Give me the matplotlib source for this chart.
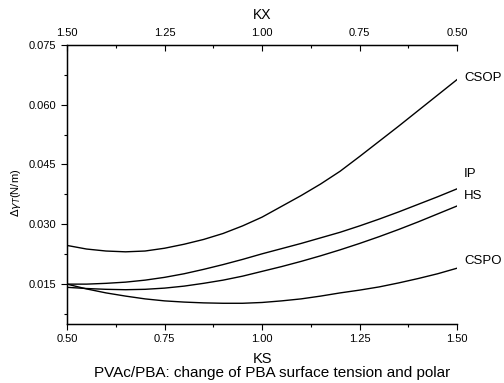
import matplotlib
matplotlib.use("Agg")
import matplotlib.pyplot as plt
from matplotlib.ticker import MultipleLocator, FormatStrFormatter

plt.rcParams['font.family'] = ['Liberation Sans', 'DejaVu Sans']

# values
ks = [0.50, 0.55, 0.60, 0.65, 0.70, 0.75, 0.80, 0.85, 0.90, 0.95, 1.00,
      1.05, 1.10, 1.15, 1.20, 1.25, 1.30, 1.35, 1.40, 1.45, 1.50]
csop = [0.0247, 0.0238, 0.0233, 0.0231, 0.0233, 0.0240, 0.0250, 0.0262, 0.0277, 0.0296, 0.0318,
        0.0345, 0.0372, 0.0401, 0.0433, 0.0470, 0.0508, 0.0546, 0.0585, 0.0624, 0.0663]
ip = [0.0150, 0.0150, 0.0152, 0.0155, 0.0160, 0.0167, 0.0176, 0.0187, 0.0199, 0.0212, 0.0226,
      0.0239, 0.0252, 0.0266, 0.0280, 0.0296, 0.0313, 0.0331, 0.0350, 0.0369, 0.0389]
hs = [0.0142, 0.0139, 0.0137, 0.0136, 0.0137, 0.0140, 0.0145, 0.0152, 0.0160, 0.0170, 0.0182,
      0.0194, 0.0207, 0.0221, 0.0236, 0.0252, 0.0269, 0.0287, 0.0306, 0.0326, 0.0346]
cspo = [0.0150, 0.0138, 0.0128, 0.0120, 0.0113, 0.0108, 0.0105, 0.0103, 0.0102, 0.0102, 0.0104,
        0.0108, 0.0113, 0.0120, 0.0128, 0.0135, 0.0143, 0.0153, 0.0164, 0.0176, 0.0190]
names = ['CSOP', 'IP', 'HS', 'CSPO']
label_y = [0.0668, 0.0425, 0.0372, 0.0208]

fig = plt.figure(figsize=(5.04, 3.83), dpi=100)
ax = fig.add_axes([0.133, 0.154, 0.774, 0.729])

for ys, name, ly in zip([csop, ip, hs, cspo], names, label_y):
    ax.plot(ks, ys, color='black', lw=1.0)
    ax.annotate(name, xy=(1.5, ly), xytext=(5, 0), textcoords='offset points',
                ha='left', va='center', fontsize=9.5, annotation_clip=False)

ax.set_xlim(0.5, 1.5)
ax.set_ylim(0.005, 0.075)
ax.xaxis.set_major_locator(MultipleLocator(0.25))
ax.xaxis.set_minor_locator(MultipleLocator(0.125))
ax.yaxis.set_major_locator(MultipleLocator(0.015))
ax.yaxis.set_minor_locator(MultipleLocator(0.0075))
ax.xaxis.set_major_formatter(FormatStrFormatter('%.2f'))
ax.yaxis.set_major_formatter(FormatStrFormatter('%.3f'))
ax.tick_params(axis='both', which='major', labelsize=8, length=4, width=0.8, direction='out')
ax.tick_params(axis='both', which='minor', length=2.5, width=0.8, direction='out')
ax.spines['right'].set_visible(False)
for s in ['left', 'bottom', 'top']:
    ax.spines[s].set_linewidth(1.0)

ax.set_xlabel('KS', fontsize=10.5, va='center')
ax.xaxis.set_label_coords(0.5, -0.125)
ax.set_ylabel(r'$\Delta\gamma_T$(N/m)', fontsize=8, va='center')
ax.yaxis.set_label_coords(-0.131, 0.47)

top = ax.twiny()
top.set_xlim(1.5, 0.5)
top.xaxis.set_major_locator(MultipleLocator(0.25))
top.xaxis.set_minor_locator(MultipleLocator(0.125))
top.xaxis.set_major_formatter(FormatStrFormatter('%.2f'))
top.tick_params(axis='x', which='major', labelsize=8, length=4, width=0.8, direction='in', pad=5)
top.tick_params(axis='x', which='minor', length=2.5, width=0.8, direction='in')
top.spines['right'].set_visible(False)
top.set_xlabel('KX', fontsize=10, va='center')
top.xaxis.set_label_coords(0.5, 1.107)

fig.text(0.54, 0.026, 'PVAc/PBA: change of PBA surface tension and polar',
         ha='center', va='center', fontsize=11)

fig.savefig('out.png', dpi=100)
